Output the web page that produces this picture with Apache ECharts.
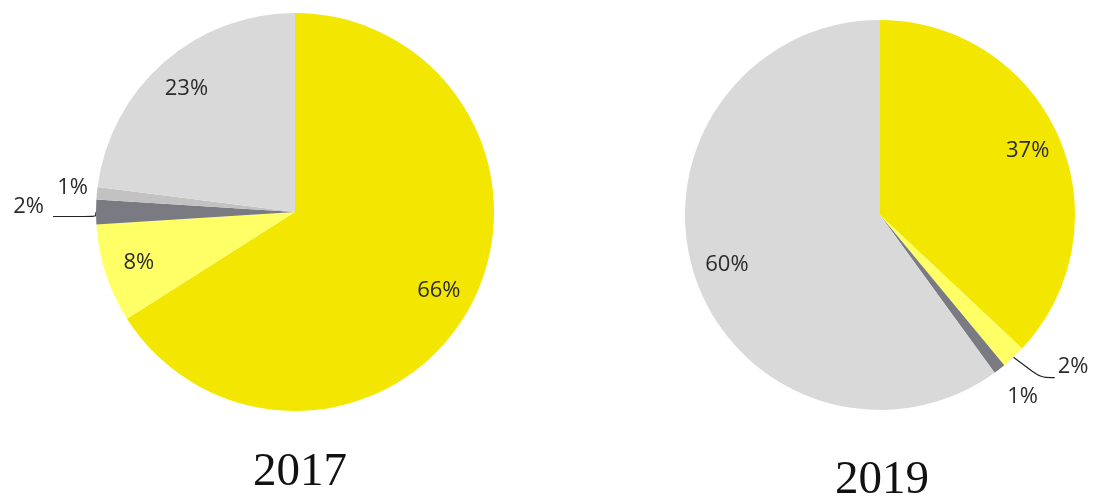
<!DOCTYPE html>
<html>
<head>
<meta charset="utf-8">
<script src="https://cdn.jsdelivr.net/npm/echarts@6/dist/echarts.min.js"></script>
<style>
  html, body { margin: 0; padding: 0; background: #ffffff; }
  #chart { width: 1096px; height: 497px; }
</style>
</head>
<body>
<div id="chart"></div>
<script>
// Share of each segment per year (percent)
const categories = ['Segment A', 'Segment B', 'Segment C', 'Segment D', 'Segment E'];
const values2017 = [66, 8, 2, 1, 23];
const values2019 = [37, 2, 1, 0, 60];
const years = ['2017', '2019'];

const colors = ['#F3E600', '#FFFF66', '#7A7A82', '#C2C2C2', '#D9D9D9'];
const labelFont = { fontFamily: 'Open Sans', fontSize: 22, color: '#2b2b2b' };

// Outside-label settings for the thin slices: [show line, length, length2, dx, dy]
const thinLabel2017 = { 2: [true, 2, 44, -6, -10], 3: [false, 8, 0, -1, -5] };
const thinLabel2019 = { 1: [true, 28, 14, 0, -11], 2: [false, 24, 0, -10, -5] };

function pieSeries(values, center, r, thinCfg) {
  // Base pie: colored wedges, outside labels only for thin slices
  const base = {
    type: 'pie',
    center: center,
    radius: [0, r],
    startAngle: 90,
    clockwise: true,
    silent: true,
    animation: false,
    avoidLabelOverlap: true,
    itemStyle: { borderWidth: 0 },
    emphasis: { disabled: true },
    labelLayout: function (p) {
      const cfg = thinCfg[p.dataIndex];
      return cfg ? { dx: cfg[3], dy: cfg[4] } : {};
    },
    data: values.map((v, i) => {
      const cfg = thinCfg[i];
      const item = {
        name: categories[i],
        value: v,
        itemStyle: { color: colors[i] }
      };
      if (cfg && v > 0) {
        item.label = Object.assign({ show: true, position: 'outside', formatter: '{c}%',
          distanceToLabelLine: 3, overflow: 'none' }, labelFont);
        item.labelLine = { show: cfg[0], length: cfg[1], length2: cfg[2], smooth: 0.3,
          lineStyle: { color: '#222222', width: 1.2 } };
      } else {
        item.label = { show: false };
        item.labelLine = { show: false };
      }
      return item;
    })
  };
  // Transparent ring carrying the large-slice labels at ~0.8 of the radius
  const overlay = {
    type: 'pie',
    center: center,
    radius: [r * 0.62, r],
    startAngle: 90,
    clockwise: true,
    silent: true,
    animation: false,
    z: 3,
    itemStyle: { color: 'rgba(0,0,0,0)', borderWidth: 0 },
    emphasis: { disabled: true },
    labelLine: { show: false },
    data: values.map((v, i) => ({
      name: categories[i],
      value: v,
      label: (thinCfg[i] || v === 0)
        ? { show: false }
        : Object.assign({ show: true, position: 'inside', formatter: '{c}%' }, labelFont)
    }))
  };
  return [base, overlay];
}

const chart = echarts.init(document.getElementById('chart'), null, { renderer: 'canvas' });
chart.setOption({
  backgroundColor: '#ffffff',
  series: [
    ...pieSeries(values2017, [295, 212], 199, thinLabel2017),
    ...pieSeries(values2019, [880, 215], 195, thinLabel2019)
  ],
  graphic: [
    { type: 'text', x: 300, y: 473,
      style: { text: years[0], font: '47px "Liberation Serif"', fill: '#111111',
        align: 'center', verticalAlign: 'middle' } },
    { type: 'text', x: 882, y: 481,
      style: { text: years[1], font: '47px "Liberation Serif"', fill: '#111111',
        align: 'center', verticalAlign: 'middle' } }
  ]
});
</script>
</body>
</html>
